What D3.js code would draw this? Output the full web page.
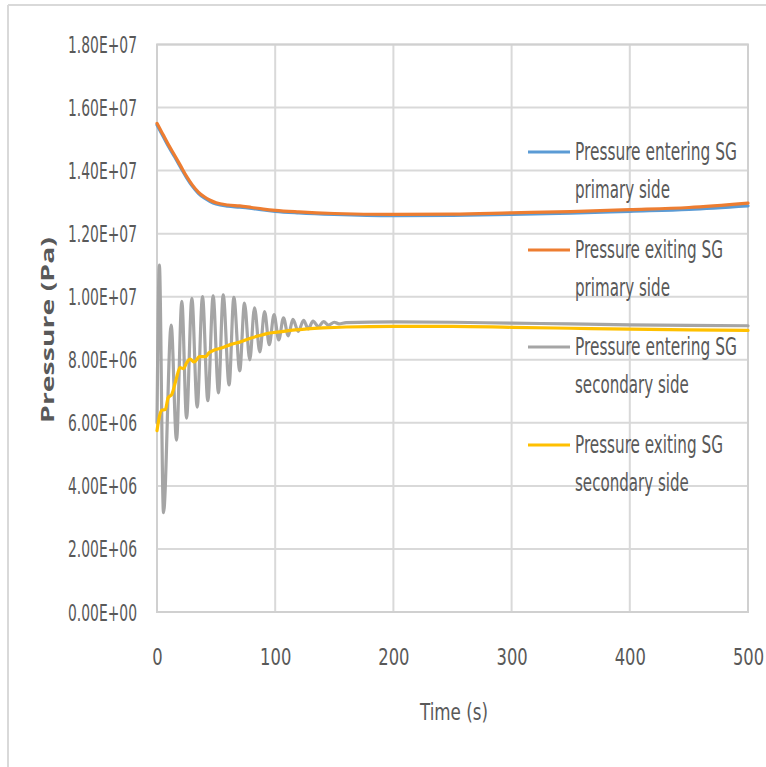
<!DOCTYPE html>
<html>
<head>
<meta charset="utf-8">
<script src="https://cdn.jsdelivr.net/npm/d3@7"></script>
<style>
  html, body { margin: 0; padding: 0; background: #fff; }
  svg { display: block; }
  text { font-family: "Liberation Sans Narrow", "DejaVu Sans Condensed", "Open Sans", sans-serif; fill: #595959; }
</style>
</head>
<body>
<svg id="chart" width="766" height="767"></svg>
<script>
// ---- data ----
const seriesNames = [
  ["Pressure entering SG", "primary side"],
  ["Pressure exiting SG", "primary side"],
  ["Pressure entering SG", "secondary side"],
  ["Pressure exiting SG", "secondary side"]
];
const seriesColors = ["#5B9BD5", "#ED7D31", "#A5A5A5", "#FFC000"];

const xTicks = [0, 100, 200, 300, 400, 500];
const yTicks = [0, 2e6, 4e6, 6e6, 8e6, 1e7, 1.2e7, 1.4e7, 1.6e7, 1.8e7];
const yTickLabels = ["0.00E+00","2.00E+06","4.00E+06","6.00E+06","8.00E+06","1.00E+07","1.20E+07","1.40E+07","1.60E+07","1.80E+07"];

// [time (s), pressure (Pa)]
const enteringPrimary = [
  [0,1.545e7],[5,1.51e7],[10,1.475e7],[15,1.443e7],[20,1.41e7],[25,1.378e7],[30,1.35e7],[35,1.328e7],
  [40,1.313e7],[45,1.302e7],[50,1.294e7],[60,1.287e7],[70,1.284e7],[80,1.28e7],[90,1.275e7],[100,1.271e7],
  [120,1.266e7],[150,1.261e7],[200,1.257e7],[250,1.258e7],[300,1.261e7],[350,1.265e7],[400,1.271e7],
  [450,1.277e7],[500,1.288e7]
];
const exitingPrimary = [
  [0,1.55e7],[5,1.515e7],[10,1.48e7],[15,1.448e7],[20,1.415e7],[25,1.382e7],[30,1.354e7],[35,1.332e7],
  [40,1.317e7],[45,1.306e7],[50,1.298e7],[60,1.291e7],[70,1.288e7],[80,1.283e7],[90,1.278e7],[100,1.274e7],
  [120,1.269e7],[150,1.264e7],[200,1.261e7],[250,1.262e7],[300,1.266e7],[350,1.27e7],[400,1.276e7],
  [450,1.283e7],[500,1.297e7]
];
const enteringSecondary = [
  [0,6.0e6],[2,1.10e7],[5.5,3.15e6],[12,9.1e6],[16.5,5.45e6],[21,9.85e6],[25,6.15e6],[29.5,9.95e6],
  [34,6.5e6],[38.5,1.0e7],[43,6.7e6],[47.5,1.003e7],[52,6.95e6],[56,1.006e7],[61,7.2e6],[65,9.98e6],
  [70,7.65e6],[74,9.8e6],[78.5,8.0e6],[82.5,9.65e6],[87,8.25e6],[91,9.53e6],[95,8.48e6],[99,9.43e6],
  [103,8.63e6],[107,9.33e6],[111,8.76e6],[115,9.28e6],[119.5,8.9e6],[124,9.25e6],[128,8.98e6],
  [132,9.23e6],[136.5,9.05e6],[141,9.21e6],[145,9.1e6],[150,9.19e6],[154,9.14e6],[160,9.18e6],
  [200,9.2e6],[250,9.19e6],[300,9.16e6],[350,9.14e6],[400,9.11e6],[450,9.09e6],[500,9.08e6]
];
const exitingSecondary = [
  [0,5.75e6],[2,6.2e6],[4,6.4e6],[7,6.42e6],[9.5,6.8e6],[12.5,6.9e6],[16,7.35e6],[19.5,7.75e6],
  [22.5,7.72e6],[25,7.9e6],[28,8.02e6],[31.5,7.93e6],[36,8.1e6],[41,8.1e6],[44,8.22e6],[48,8.3e6],
  [55,8.38e6],[62,8.48e6],[70,8.56e6],[79,8.68e6],[86,8.76e6],[93,8.83e6],[100,8.87e6],[107,8.9e6],
  [117,8.95e6],[127,8.98e6],[140,9.01e6],[160,9.04e6],[200,9.06e6],[250,9.06e6],[300,9.03e6],
  [350,9.0e6],[400,8.97e6],[450,8.95e6],[500,8.93e6]
];
const allSeries = [enteringPrimary, exitingPrimary, enteringSecondary, exitingSecondary];

// ---- layout ----
const svg = d3.select("#chart");
const plot = { left: 157, right: 748, top: 44.5, bottom: 612 };
const x = d3.scaleLinear().domain([0, 500]).range([plot.left, plot.right]);
const y = d3.scaleLinear().domain([0, 1.8e7]).range([plot.bottom, plot.top]);

// place a text at (px,py) and squeeze it horizontally to a target width
function placeText(parent, str, px, py, width, opts = {}) {
  const t = parent.append("text").attr("x", 0).attr("y", 0)
    .attr("font-size", opts.size || 23)
    .attr("text-anchor", opts.anchor || "start")
    .attr("dy", opts.dy || "0.35em")
    .text(str);
  if (opts.weight) t.attr("font-weight", opts.weight);
  if (opts.family) t.style("font-family", opts.family);
  const nat = t.node().getComputedTextLength();
  const sx = width / nat;
  const rot = opts.rotate ? ` rotate(${opts.rotate})` : "";
  t.attr("transform", `translate(${px},${py})${rot} scale(${sx},1)`);
  return t;
}

// outer frame (top & left edges visible)
svg.append("line").attr("x1", 8).attr("x2", 766).attr("y1", 5).attr("y2", 5)
  .attr("stroke", "#D9D9D9").attr("stroke-width", 2);
svg.append("line").attr("x1", 8).attr("x2", 8).attr("y1", 5).attr("y2", 767)
  .attr("stroke", "#D9D9D9").attr("stroke-width", 2);

// gridlines
const grid = svg.append("g");
grid.selectAll("line.h").data(yTicks).join("line")
  .attr("x1", plot.left).attr("x2", plot.right)
  .attr("y1", d => y(d)).attr("y2", d => y(d))
  .attr("stroke", "#D9D9D9").attr("stroke-width", 2);
grid.selectAll("line.v").data(xTicks).join("line")
  .attr("x1", d => x(d)).attr("x2", d => x(d))
  .attr("y1", plot.top).attr("y2", plot.bottom)
  .attr("stroke", "#D9D9D9").attr("stroke-width", 2);
svg.append("rect").attr("x", plot.left).attr("y", plot.top)
  .attr("width", plot.right - plot.left).attr("height", plot.bottom - plot.top)
  .attr("fill", "none").attr("stroke", "#D0D0D0").attr("stroke-width", 2);

// axes: use d3 axes for tick positions, then render condensed labels
const gy = svg.append("g").attr("transform", "translate(137,0)")
  .call(d3.axisLeft(y).tickValues(yTicks).tickSize(0).tickPadding(0).tickFormat((d, i) => yTickLabels[i]));
gy.select(".domain").remove();
gy.selectAll(".tick").each(function (d, i) {
  const g = d3.select(this);
  g.select("text").remove();
  placeText(g, yTickLabels[i], 0, 0, 69, { anchor: "end" });
});

const gx = svg.append("g").attr("transform", "translate(0,657)")
  .call(d3.axisBottom(x).tickValues(xTicks).tickSize(0).tickPadding(0).tickFormat(d3.format("d")));
gx.select(".domain").remove();
gx.selectAll(".tick").each(function (d) {
  const g = d3.select(this);
  g.select("text").remove();
  const s = d3.format("d")(d);
  placeText(g, s, 0, 0, s.length * 10.4, { anchor: "middle" });
});

// axis titles
placeText(svg, "Time (s)", 454, 712, 68, { anchor: "middle" });
placeText(svg, "Pressure (Pa)", 48, 330, 186, {
  anchor: "middle", size: 18, weight: "bold", rotate: -90,
  family: "'Open Sans', 'DejaVu Sans', sans-serif"
});

// lines
const line = d3.line().x(d => x(d[0])).y(d => y(d[1])).curve(d3.curveMonotoneX);
svg.append("g").selectAll("path").data(allSeries).join("path")
  .attr("d", line).attr("fill", "none")
  .attr("stroke", (d, i) => seriesColors[i]).attr("stroke-width", 3.2)
  .attr("stroke-linejoin", "round").attr("stroke-linecap", "round");

// legend
const legendY = [152, 250, 347, 445];
const legendW = [[162, 95], [148, 95], [162, 114], [148, 114]];
const lg = svg.append("g").selectAll("g").data(seriesNames).join("g")
  .attr("transform", (d, i) => `translate(528,${legendY[i]})`);
lg.append("line").attr("x1", 0).attr("x2", 42).attr("y1", 0).attr("y2", 0)
  .attr("stroke", (d, i) => seriesColors[i]).attr("stroke-width", 3.2);
lg.each(function (d, i) {
  const g = d3.select(this);
  d.forEach((t, k) => placeText(g, t, 47, k * 38, legendW[i][k], { size: 24 }));
});
</script>
</body>
</html>
